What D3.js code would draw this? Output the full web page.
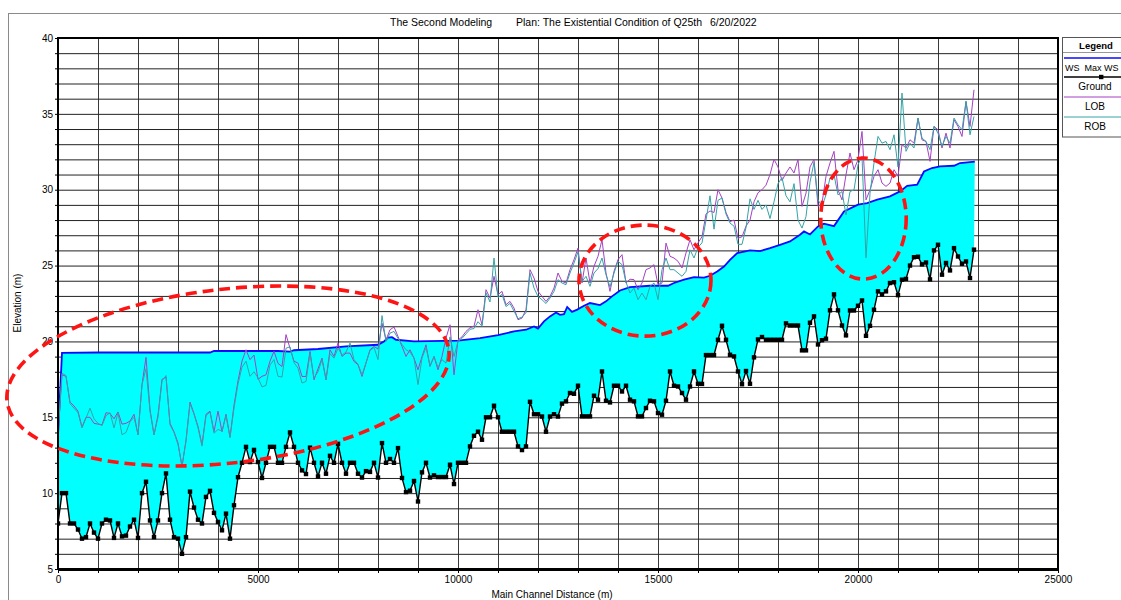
<!DOCTYPE html>
<html>
<head>
<meta charset="utf-8">
<script src="https://cdn.jsdelivr.net/npm/d3@7"></script>
<style>
  body { margin: 0; background: #fff; }
  svg { font-family: "Liberation Sans", Arial, sans-serif; }
  .lt { white-space: pre; }
</style>
</head>
<body>
<svg id="chart" width="1121" height="600"></svg>
<script>
// stations along the main channel, every 100 m
const stations = d3.range(0, 22901, 100);

const ground = [
  8, 10, 10, 8, 8, 7.6, 7.0, 7.1, 8, 7.4,
  7, 8, 8.25, 8.2, 7.05, 8, 7.15, 7.2, 7.8, 8.25,
  7.05, 10, 10.75, 8.2, 7.1, 8.2, 10, 11.3, 8.25, 7.1,
  7, 6, 7.1, 10.1, 9.05, 8.25, 8, 9.75, 10.15, 8.7,
  8.1, 7.55, 8.65, 7, 9.2, 11.05, 12, 13.05, 12.05, 12.85,
  12.05, 11, 12, 13.05, 13.05, 12, 12, 13.05, 14, 13.05,
  12, 11.5, 11.26, 13, 12, 11.1, 12, 11.28, 12.46, 12,
  13.25, 12, 11.28, 12, 12, 11.28, 11.03, 11.45, 11.4, 12,
  11.03, 13.3, 12, 12.25, 12, 12.97, 11, 10.07, 10.16, 10.8,
  9.45, 11.37, 12, 11.03, 11.17, 11.06, 11.06, 11.06, 11.87, 10.6,
  12, 12, 12, 13.08, 13.78, 14.05, 13.52, 15, 15, 15.76,
  15, 14.05, 14.05, 14.05, 14.05, 13.08, 12.84, 13.08, 16.02, 15.2,
  15.2, 15.05, 14.05, 15.05, 15.2, 15.05, 15.9, 16.05, 16.6, 16.55,
  17.08, 15.06, 15.06, 15.06, 16.42, 16.16, 18.02, 16.09, 15.98, 17.08,
  17.08, 16.7, 17.08, 16.16, 16.05, 15.06, 15.06, 15.61, 16.09, 16.05,
  15.28, 15.17, 16.09, 18.02, 17.08, 17.03, 16.6, 16.16, 17.03, 18.02,
  17.21, 17.2, 19.1, 19.1, 19.1, 20.11, 21.03, 20.11, 19.12, 19.01,
  18.02, 17.18, 18.05, 17.21, 18.95, 20.13, 20.29, 20.11, 20.11, 20.11,
  20.11, 20.11, 21.19, 21.05, 21.05, 21.05, 19.41, 19.41, 21.23, 21.65,
  19.8, 20.08, 20.18, 22.05, 23.1, 22.05, 21.05, 20.4, 22.04, 22.04,
  22.35, 22.7, 20.37, 21.03, 22.09, 23.3, 23.1, 23.3, 23.85, 23.9,
  23.05, 24.07, 24.12, 25.0, 25.55, 25.58, 25.08, 25.2, 24.09, 26.0,
  26.37, 24.4, 25.17, 24.68, 26.15, 25.6, 25.12, 25.27, 24.18, 26.05
];

const lob = [
  13.9, 17.8, 17.7, 16.0, 15.75, 15.4, 14.35, 15.0, 15.0, 14.6,
  14.55, 14.5, 15.3, 15.25, 14.9, 15.35, 14.55, 14.6, 14.75, 15.2,
  13.85, 17.15, 18.95, 15.5, 13.85, 15.15, 17.5, 17.65, 14.6, 14.05,
  13.3, 11.75, 13.5, 16.0, 15.25, 14.4, 13.2, 15.2, 15.4, 14.05,
  15.4, 14.05, 15.2, 13.7, 15.8, 17.4, 18.7, 19.45, 18.8, 19.1,
  17.5, 17.7, 17.8, 18.7, 19.35, 18.55, 18.35, 20.45, 19.55, 18.7,
  18.57, 17.69, 17.69, 19.34, 17.47, 18.2, 18.9, 17.47, 19.45, 19.01,
  19.89, 19.01, 19.23, 19.23, 18.68, 18.46, 17.69, 18.57, 19.45, 19.67,
  19.5, 21.2, 20.11, 20.77, 20.95, 20.33, 19.67, 19.01, 19.45, 18.9,
  18.13, 19.01, 19.78, 18.35, 19.01, 18.13, 19.01, 20.22, 21.1, 17.8,
  20.1, 20.3, 20.66, 20.9, 21.0, 22.09, 21.1, 23.41, 22.86, 24.29,
  23.08, 23.3, 22.42, 22.64, 22.2, 21.43, 21.54, 22.09, 24.73, 24.18,
  23.3, 22.97, 22.64, 22.97, 23.52, 24.51, 23.96, 23.85, 24.73, 25.39,
  26.15, 23.85, 25.5, 23.85, 24.95, 25.61, 26.7, 24.51, 23.3, 24.62,
  25.39, 25.72, 23.85, 24.1, 24.07, 23.41, 23.85, 24.73, 24.84, 25.06,
  23.74, 23.85, 26.48, 25.61, 25.5, 25.28, 24.84, 25.83, 26.7, 26.04,
  26.5, 26.9, 28.4, 28.6, 28.5, 30.0, 29.45, 28.5, 27.9, 28.0,
  26.8, 26.9, 27.6, 28.0, 29.2, 29.8, 30.0, 30.3, 31.0, 32.0,
  31.5, 30.6, 31.1, 31.5, 31.1, 32.0, 28.9, 29.77, 31.5, 32.0,
  28.9, 29.11, 30.88, 31.76, 32.53, 29.99, 29.33, 30.99, 32.42, 31.32,
  31.98, 33.84, 29.33, 29.99, 30.88, 31.32, 30.44, 30.22, 30.44, 31.32,
  30.88, 32.97, 32.75, 33.29, 33.07, 34.72, 33.29, 33.18, 31.87, 34.17,
  33.95, 32.75, 33.73, 32.75, 34.61, 34.17, 33.51, 35.82, 34.17, 36.59
];

const rob = [
  13.9, 17.9, 17.75, 15.9, 15.6, 15.3, 14.3, 14.95, 15.6, 14.9,
  14.6, 14.45, 15.1, 15.3, 14.3, 15.3, 13.85, 14.0, 14.7, 15.0,
  13.85, 17.15, 18.2, 15.4, 13.85, 15.0, 17.4, 17.75, 14.5, 14.0,
  13.2, 11.8, 13.4, 15.9, 15.2, 14.3, 13.1, 15.1, 15.35, 13.95,
  14.2, 14.1, 15.1, 13.65, 15.6, 17.2, 18.3, 18.7, 17.7, 18.0,
  17.6, 17.0, 17.1, 18.45, 18.8, 17.7, 17.65, 19.55, 19.65, 18.6,
  18.24, 17.26, 17.36, 19.2, 17.6, 18.0, 18.8, 17.5, 19.2, 18.9,
  19.56, 19.1, 19.3, 19.89, 18.8, 18.5, 17.8, 18.6, 19.4, 19.6,
  18.8, 21.7, 20.0, 20.55, 20.66, 20.2, 19.8, 19.45, 19.3, 18.9,
  17.15, 18.9, 19.6, 18.4, 19.0, 18.3, 18.8, 18.57, 20.3, 19.0,
  20.0, 20.2, 20.5, 20.8, 20.85, 21.3, 21.0, 23.2, 22.6, 25.5,
  22.9, 23.1, 22.3, 22.5, 22.0, 21.5, 21.6, 21.9, 24.5, 23.52,
  22.97, 22.75, 22.5, 22.86, 23.3, 24.07, 23.85, 23.74, 24.51, 25.17,
  25.9, 23.96, 24.29, 23.63, 24.51, 24.8, 25.5, 24.4, 23.6, 24.5,
  25.28, 25.06, 23.9, 23.19, 23.52, 22.75, 23.19, 22.75, 23.63, 23.85,
  22.75, 24.73, 25.5, 24.73, 24.73, 24.51, 24.29, 24.62, 26.04, 25.5,
  26.2, 26.5, 28.0, 29.6, 27.4, 29.3, 29.45, 28.4, 27.8, 27.6,
  26.4, 26.4, 27.5, 29.4, 28.7, 29.3, 28.7, 29.0, 28.1, 29.2,
  30.4, 30.8, 29.6, 29.2, 30.4, 28.0, 27.47, 28.23, 30.5, 31.8,
  29.33, 28.9, 29.66, 30.77, 30.99, 29.66, 29.88, 28.34, 29.88, 29.99,
  31.65, 32.2, 25.51, 29.77, 31.76, 33.51, 33.07, 33.18, 32.64, 33.62,
  31.5, 36.37, 32.53, 33.07, 32.75, 34.72, 33.4, 33.18, 32.64, 34.17,
  33.73, 32.86, 33.51, 33.07, 34.72, 34.28, 33.95, 35.82, 33.62, 34.83
];

// max water surface, read at its own stations
const wsDist = [0, 100, 1000, 3800, 3900, 5500, 5800, 5900, 6500, 7200, 8000, 8150, 8250, 8350, 8450, 8900,
  10000, 10550, 11000, 11400, 11700, 11900, 12000, 12150, 12300, 12450, 12550, 12650, 12730, 12850, 12980,
  13150, 13300, 13550, 13700, 13850, 14050, 14300, 14800, 15250, 15400, 15650, 15900, 16150, 16300, 16480,
  16650, 16800, 16980, 17300, 17550, 17800, 18050, 18300, 18550, 18650, 18800, 19000, 19150, 19400, 19650,
  20000, 20230, 20480, 20800, 21050, 21230, 21480, 21650, 21850, 22050, 22400, 22550, 22920];
const wsMax = [13.8, 19.25, 19.27, 19.27, 19.37, 19.37, 19.33, 19.42, 19.5, 19.67, 19.78, 20.0, 20.25, 20.28, 20.11, 20.0,
  20.05, 20.22, 20.42, 20.66, 20.77, 20.99, 20.85, 21.32, 21.65, 21.91, 21.75, 21.8, 22.27, 21.95, 22.1,
  22.35, 22.53, 22.4, 22.64, 22.97, 23.36, 23.58, 23.67, 23.67, 23.85, 24.07, 24.24, 24.2, 24.33, 24.61,
  24.94, 25.38, 25.82, 26.0, 25.95, 26.15, 26.37, 26.59, 27.03, 27.25, 27.05, 27.58, 27.76, 27.6, 28.57,
  29.01, 29.12, 29.34, 29.56, 29.89, 30.26, 30.33, 31.2, 31.43, 31.54, 31.58, 31.76, 31.85];

const xTickLabels = [0, 5000, 10000, 15000, 20000, 25000];
const yTickLabels = [5, 10, 15, 20, 25, 30, 35, 40];
const titleParts = ["The Second Modeling", "Plan: The Existential Condition of Q25th", "6/20/2022"];
const legendLabels = ["WS  Max WS", "Ground", "LOB", "ROB"];

// red dashed annotation rings: centre distance, centre elevation, half width (m), half height (m), tilt
const rings = [
  { d: 4250, z: 17.72, rd: 5560, rz: 5.73, tilt: -6.5 },
  { d: 14675, z: 24.01, rd: 1650, rz: 3.66, tilt: 0 },
  { d: 20137, z: 28.1, rd: 1068, rz: 3.99, tilt: 0 }
];

function renderProfile() {
  const svg = d3.select("#chart");
  const left = 58, right = 1058, top = 38, bottom = 569;

  const x = d3.scaleLinear().domain([0, 25000]).range([left, right]);
  const y = d3.scaleLinear().domain([5, 40]).range([bottom, top]);

  // outer frame of the whole plot window
  svg.append("rect")
    .attr("x", 8.5).attr("y", 13.5)
    .attr("width", 1200).attr("height", 700)
    .attr("fill", "none").attr("stroke", "#8a8a8a");

  const titleX = [390, 516, 710];
  svg.selectAll(".title")
    .data(titleParts)
    .enter().append("text")
    .attr("class", "title")
    .attr("x", (d, i) => titleX[i])
    .attr("y", 26)
    .style("font-size", "10.5px")
    .text(d => d);

  svg.append("defs").append("clipPath").attr("id", "plotClip")
    .append("rect").attr("x", left).attr("y", top)
    .attr("width", right - left).attr("height", bottom - top);

  // grid
  const grid = svg.append("g");
  grid.append("g")
    .attr("transform", `translate(0,${bottom})`)
    .call(d3.axisBottom(x).tickValues(d3.range(0, 25001, 1000)).tickSize(-(bottom - top)).tickFormat(""))
    .call(g => g.select(".domain").remove())
    .selectAll("line").attr("stroke", "#3a3a3a");
  grid.append("g")
    .attr("transform", `translate(${left},0)`)
    .call(d3.axisLeft(y).tickValues(d3.range(5, 41, 1)).tickSize(-(right - left)).tickFormat(""))
    .call(g => g.select(".domain").remove())
    .selectAll("line").attr("stroke", "#222");

  const plot = svg.append("g").attr("clip-path", "url(#plotClip)");

  const groundPts = stations.map((d, i) => [d, ground[i]]);
  const wsPts = wsDist.map((d, i) => [d, wsMax[i]]);

  const line = d3.line().x(d => x(d[0])).y(d => y(d[1]));

  // water between ground and water surface
  plot.append("path")
    .attr("d", line(wsPts.concat(groundPts.slice().reverse())) + "Z")
    .attr("fill", "#00ffff")
    .attr("stroke", "none");

  plot.append("path")
    .attr("d", line(wsPts))
    .attr("fill", "none")
    .attr("stroke", "#0a0aff")
    .attr("stroke-width", 1.8);

  plot.append("path")
    .attr("d", line(stations.map((d, i) => [d, lob[i]])))
    .attr("fill", "none")
    .attr("stroke", "#a441c4")
    .attr("stroke-width", 1);

  plot.append("path")
    .attr("d", line(stations.map((d, i) => [d, rob[i]])))
    .attr("fill", "none")
    .attr("stroke", "#35a3a6")
    .attr("stroke-width", 1);

  plot.append("path")
    .attr("d", line(groundPts))
    .attr("fill", "none")
    .attr("stroke", "#000")
    .attr("stroke-width", 1.4);

  plot.selectAll(".gpt")
    .data(groundPts)
    .enter().append("rect")
    .attr("class", "gpt")
    .attr("x", d => x(d[0]) - 2.2)
    .attr("y", d => y(d[1]) - 2.2)
    .attr("width", 4.4).attr("height", 4.4)
    .attr("fill", "#000");

  // axes
  const xAxis = svg.append("g")
    .attr("transform", `translate(0,${bottom})`)
    .call(d3.axisBottom(x).tickValues(d3.range(0, 25001, 1000)).tickSize(4).tickPadding(3)
      .tickFormat(d => xTickLabels.includes(d) ? String(d) : ""));
  xAxis.select(".domain").remove();
  xAxis.selectAll("line").attr("stroke", "#000");
  xAxis.selectAll("text").style("font-size", "10px").attr("fill", "#000");

  const yAxis = svg.append("g")
    .attr("transform", `translate(${left},0)`)
    .call(d3.axisLeft(y).tickValues(d3.range(5, 41, 1)).tickSize(3).tickPadding(2)
      .tickFormat(d => yTickLabels.includes(d) ? String(d) : ""));
  yAxis.select(".domain").remove();
  yAxis.selectAll("line").attr("stroke", "#000");
  yAxis.selectAll("text").style("font-size", "10px").attr("fill", "#000");

  // plot frame
  svg.append("rect")
    .attr("x", left).attr("y", top)
    .attr("width", right - left).attr("height", bottom - top)
    .attr("fill", "none").attr("stroke", "#000").attr("stroke-width", 2);
  svg.append("line")
    .attr("x1", left).attr("x2", right).attr("y1", bottom + 0.5).attr("y2", bottom + 0.5)
    .attr("stroke", "#000").attr("stroke-width", 3);

  svg.append("text")
    .attr("x", 552).attr("y", 598)
    .attr("text-anchor", "middle")
    .style("font-size", "10px")
    .text("Main Channel Distance (m)");

  svg.append("text")
    .attr("transform", "translate(21,303) rotate(-90)")
    .attr("text-anchor", "middle")
    .style("font-size", "10px")
    .text("Elevation (m)");

  // legend
  const lg = svg.append("g");
  lg.append("rect")
    .attr("x", 1062.5).attr("y", 37.5).attr("width", 100).attr("height", 99.5)
    .attr("fill", "#fff").attr("stroke", "#555");
  lg.append("text").attr("x", 1096).attr("y", 48.5).attr("text-anchor", "middle")
    .style("font-size", "9.5px").style("font-weight", "bold").text("Legend");
  lg.append("line").attr("x1", 1063).attr("x2", 1121).attr("y1", 52.5).attr("y2", 52.5)
    .attr("stroke", "#999");

  const swatchY = [58, 77, 97, 117];
  const swatchColor = ["#0a0aff", "#000", "#a441c4", "#35a3a6"];
  const textY = [71, 90, 110, 130];
  lg.selectAll(".sw")
    .data(legendLabels)
    .enter().append("line")
    .attr("x1", 1064).attr("x2", 1121)
    .attr("y1", (d, i) => swatchY[i]).attr("y2", (d, i) => swatchY[i])
    .attr("stroke", (d, i) => swatchColor[i])
    .attr("stroke-width", (d, i) => i < 2 ? 1.5 : 1);
  lg.append("rect").attr("x", 1099).attr("y", swatchY[1] - 2.2).attr("width", 4.4).attr("height", 4.4).attr("fill", "#000");
  lg.selectAll(".lt")
    .data(legendLabels)
    .enter().append("text")
    .attr("class", "lt")
    .attr("x", (d, i) => i === 0 ? 1065 : 1095)
    .attr("y", (d, i) => textY[i])
    .attr("text-anchor", (d, i) => i === 0 ? "start" : "middle")
    .style("font-size", (d, i) => i === 0 ? "9px" : "10px")
    .text(d => d);

  // red dashed annotation rings
  const pxPerM = x(1) - x(0);
  const pxPerZ = y(0) - y(1);
  svg.selectAll(".ring")
    .data(rings)
    .enter().append("ellipse")
    .attr("cx", d => x(d.d))
    .attr("cy", d => y(d.z))
    .attr("rx", d => d.rd * pxPerM)
    .attr("ry", d => d.rz * pxPerZ)
    .attr("transform", d => `rotate(${d.tilt},${x(d.d)},${y(d.z)})`)
    .attr("fill", "none")
    .attr("stroke", "#ff1414")
    .attr("stroke-width", 3.6)
    .attr("stroke-dasharray", "11,6");
}

renderProfile();
</script>
</body>
</html>
